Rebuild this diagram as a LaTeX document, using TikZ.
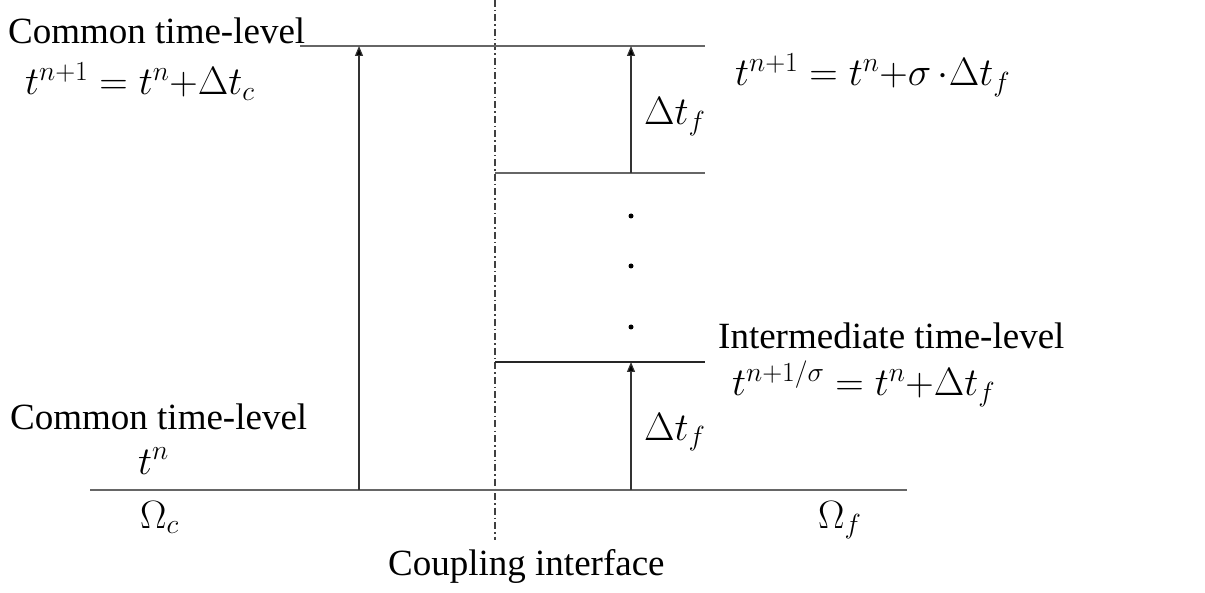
\documentclass[tikz,border=0pt]{standalone}
\usepackage{fix-cm}
\usepackage{fontspec}
\setmainfont{Liberation Serif}
\usetikzlibrary{arrows.meta}
\begin{document}
\begin{tikzpicture}[x=1pt,y=-1pt,
  txt/.style={inner sep=0pt,anchor=base west,font=\fontsize{37}{42}\selectfont},
  mth/.style={inner sep=0pt,anchor=base west,font=\fontsize{39.5}{44}\selectfont},
  level/.style={draw=black!60,line width=1.2pt},
  stepline/.style={draw=black!80,line width=1.2pt,-{Triangle[length=10pt,width=8pt,fill=black]}},
  iface/.style={draw=black!75,line width=1.2pt,dash pattern=on 7pt off 3pt on 1.5pt off 3pt},
  dotmark/.style={circle,fill=black,inner sep=0pt,minimum size=5pt}]
\useasboundingbox (0,0) rectangle (1205,593);
% coordinates
\coordinate (ifTop) at (495,0);
\coordinate (ifBot) at (495,540);
\coordinate (topL) at (300,46);
\coordinate (topR) at (705,46);
\coordinate (midL) at (495,173);
\coordinate (midR) at (705,173);
\coordinate (intL) at (495,362);
\coordinate (intR) at (705,362);
\coordinate (botL) at (90,490);
\coordinate (botR) at (907,490);
\coordinate (cBase) at (359,490);
\coordinate (cTop) at (359,46);
\coordinate (f1Base) at (631,490);
\coordinate (f1Top) at (631,362);
\coordinate (f2Base) at (631,173);
\coordinate (f2Top) at (631,46);
% lines
\draw[iface] (ifTop) -- (ifBot);
\draw[level] (topL) -- (topR);
\draw[level] (midL) -- (midR);
\draw[level,draw=black!85] (intL) -- (intR);
\draw[level] (botL) -- (botR);
\draw[stepline] (cBase) -- (cTop);
\draw[stepline] (f1Base) -- (f1Top);
\draw[stepline] (f2Base) -- (f2Top);
% dots
\node[dotmark] (d1) at (631,216) {};
\node[dotmark] (d2) at (631,266) {};
\node[dotmark] (d3) at (631,327) {};
% texts
\node[txt] (ctl1) at (8,44) {Common time-level};
\node[mth] (e1) at (25,95) {$t^{n+1}=t^{n}{+}\Delta t_c$};
\node[mth] (df1) at (644,125) {$\Delta t_f$};
\node[mth] (e2) at (735,86) {$t^{n+1}=t^{n}{+}\sigma\,{\cdot}\Delta t_f$};
\node[txt] (itl) at (718,349) {Intermediate time-level};
\node[mth] (e3) at (732,396) {$t^{n+1/\sigma}=t^{n}{+}\Delta t_f$};
\node[mth] (df2) at (644,440) {$\Delta t_f$};
\node[txt] (ctl2) at (10,429) {Common time-level};
\node[mth] (tn) at (138,474) {$t^{n}$};
\node[mth] (oc) at (140,528) {$\Omega_c$};
\node[mth] (of) at (818,528) {$\Omega_f$};
\node[txt] (ci) at (388,575) {Coupling interface};
\end{tikzpicture}
\end{document}
